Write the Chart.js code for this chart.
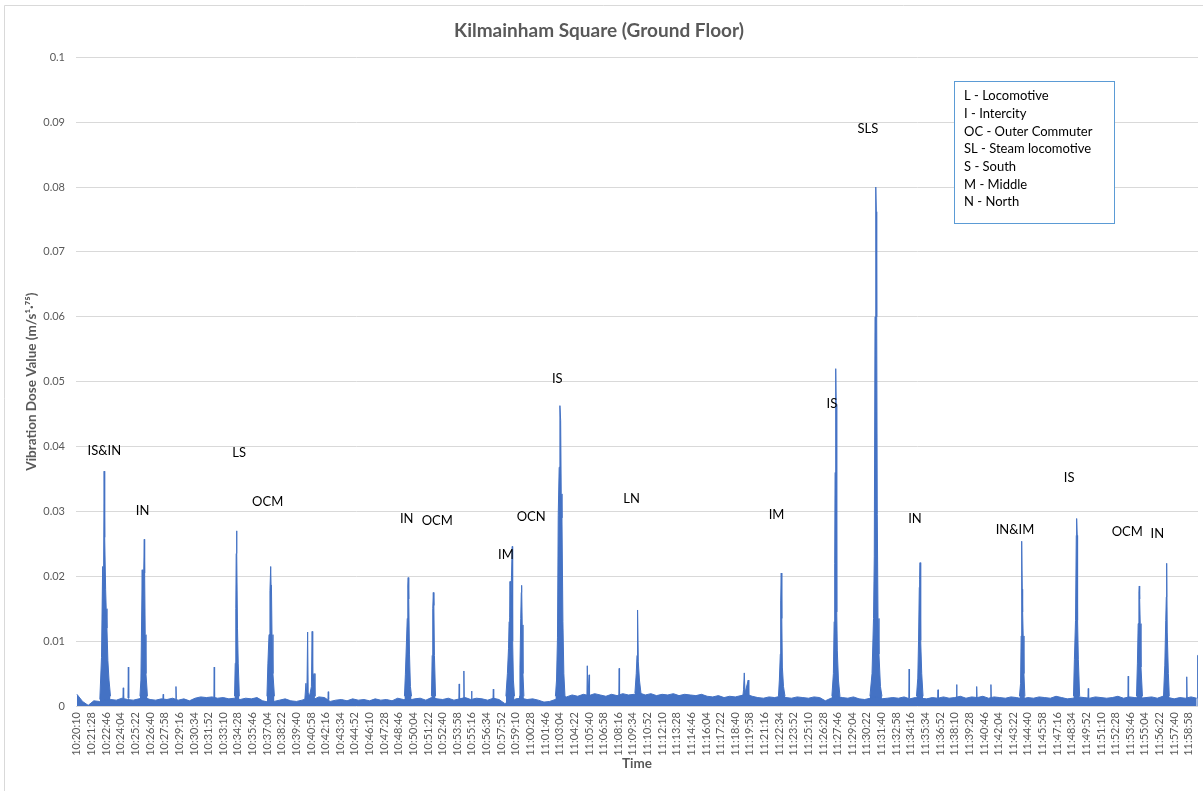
<!DOCTYPE html>
<html><head><meta charset="utf-8">
<script src="https://cdn.jsdelivr.net/npm/chart.js@4.4.1/dist/chart.umd.min.js"></script>
<style>html,body{margin:0;padding:0;background:#fff;}</style>
</head><body>
<canvas id="c" width="1203" height="791"></canvas>
<script>
const chartTitle = 'Kilmainham Square (Ground Floor)';
const yAxisTitle = 'Vibration Dose Value (m/s¹·⁷⁵)';
const xAxisTitle = 'Time';
const startTime = '10:20:10';
const tickLabels = ['10:20:10','10:21:28','10:22:46','10:24:04','10:25:22','10:26:40','10:27:58','10:29:16','10:30:34','10:31:52','10:33:10','10:34:28','10:35:46','10:37:04','10:38:22','10:39:40','10:40:58','10:42:16','10:43:34','10:44:52','10:46:10','10:47:28','10:48:46','10:50:04','10:51:22','10:52:40','10:53:58','10:55:16','10:56:34','10:57:52','10:59:10','11:00:28','11:01:46','11:03:04','11:04:22','11:05:40','11:06:58','11:08:16','11:09:34','11:10:52','11:12:10','11:13:28','11:14:46','11:16:04','11:17:22','11:18:40','11:19:58','11:21:16','11:22:34','11:23:52','11:25:10','11:26:28','11:27:46','11:29:04','11:30:22','11:31:40','11:32:58','11:34:16','11:35:34','11:36:52','11:38:10','11:39:28','11:40:46','11:42:04','11:43:22','11:44:40','11:45:58','11:47:16','11:48:34','11:49:52','11:51:10','11:52:28','11:53:46','11:55:04','11:56:22','11:57:40','11:58:58'];
const yMin = 0, yMax = 0.1, yStep = 0.01;
const xMinSeconds = -5, xMaxSeconds = 5977;

// background vibration level, one reading every 30 s from 10:20:10
const baselineStepSeconds = 30;
const baselineValues = [
0.0018,0.0007,0.0001,0.0008,0.0007,0.0009,0.0010,0.0009,0.0012,0.0010,
0.0009,0.0011,0.0013,0.0010,0.0009,0.0011,0.0010,0.0012,0.0009,0.0011,
0.0008,0.0012,0.0014,0.0013,0.0014,0.0012,0.0013,0.0011,0.0012,0.0010,
0.0012,0.0011,0.0013,0.0008,0.0006,0.0007,0.0009,0.0011,0.0008,0.0007,
0.0009,0.0012,0.0010,0.0014,0.0013,0.0007,0.0009,0.0010,0.0008,0.0011,
0.0009,0.0010,0.0008,0.0011,0.0009,0.0010,0.0008,0.0012,0.0010,0.0009,
0.0011,0.0012,0.0009,0.0013,0.0011,0.0010,0.0012,0.0009,0.0011,0.0013,
0.0010,0.0012,0.0011,0.0009,0.0012,0.0010,0.0004,0.0005,0.0011,0.0012,
0.0010,0.0011,0.0009,0.0006,0.0007,0.0010,0.0016,0.0014,0.0017,0.0015,
0.0018,0.0016,0.0019,0.0017,0.0015,0.0018,0.0016,0.0019,0.0017,0.0018,
0.0020,0.0017,0.0019,0.0016,0.0018,0.0017,0.0019,0.0016,0.0018,0.0017,
0.0016,0.0018,0.0015,0.0014,0.0016,0.0013,0.0015,0.0014,0.0016,0.0018,
0.0015,0.0013,0.0012,0.0014,0.0013,0.0015,0.0013,0.0012,0.0014,0.0013,
0.0012,0.0014,0.0013,0.0008,0.0012,0.0015,0.0013,0.0012,0.0014,0.0011,
0.0010,0.0012,0.0014,0.0011,0.0012,0.0013,0.0012,0.0014,0.0011,0.0013,
0.0012,0.0011,0.0013,0.0012,0.0014,0.0012,0.0013,0.0015,0.0012,0.0014,
0.0013,0.0015,0.0012,0.0014,0.0013,0.0012,0.0014,0.0013,0.0011,0.0013,
0.0012,0.0014,0.0013,0.0012,0.0015,0.0013,0.0011,0.0012,0.0014,0.0013,
0.0012,0.0014,0.0013,0.0012,0.0013,0.0015,0.0012,0.0014,0.0013,0.0012,
0.0013,0.0014,0.0012,0.0015,0.0013,0.0011,0.0013,0.0012,0.0014,0.0012];

// train passages and spikes: [seconds after 10:20:10, value]
const events = [
[[122,0.001],[131,0.0075],[137,0.0215],[141,0.014],[145,0.0362],[147,0.027],[149,0.026],[153,0.018],[156,0.015],[160,0.012],[165,0.007],[171,0.004],[179,0.0015]],
[[245,0.0012],[247,0.0028],[249,0.0012]],
[[272,0.0012],[274,0.006],[276,0.0012]],
[[336,0.0015],[341,0.004],[348,0.021],[352,0.0115],[354,0.017],[359,0.0257],[361,0.0205],[364,0.011],[368,0.005],[376,0.0015]],
[[458,0.0011],[460,0.0018],[462,0.0011]],
[[526,0.0011],[528,0.003],[530,0.0011]],
[[730,0.0013],[732,0.006],[734,0.0013]],
[[840,0.0015],[844,0.0066],[847,0.015],[849,0.0235],[851,0.027],[853,0.0235],[856,0.012],[860,0.0065],[866,0.0015]],
[[1013,0.0015],[1018,0.0065],[1024,0.011],[1029,0.0178],[1033,0.0215],[1035,0.0186],[1037,0.0185],[1040,0.011],[1045,0.005],[1053,0.0015]],
[[1215,0.001],[1221,0.0035],[1226,0.0015],[1230,0.0114],[1233,0.002],[1240,0.0015],[1250,0.003],[1254,0.0115],[1257,0.004],[1264,0.005],[1269,0.0015]],
[[1338,0.001],[1340,0.0022],[1342,0.001]],
[[1746,0.0015],[1751,0.0048],[1757,0.01],[1761,0.0135],[1764,0.0185],[1766,0.0198],[1769,0.0165],[1773,0.008],[1778,0.003],[1784,0.0015]],
[[1890,0.0015],[1894,0.0078],[1897,0.015],[1900,0.0175],[1903,0.0155],[1906,0.0078],[1912,0.0015]],
[[2036,0.0011],[2038,0.0034],[2040,0.0011]],
[[2061,0.0011],[2063,0.0054],[2065,0.0011]],
[[2102,0.0011],[2104,0.0023],[2106,0.0011]],
[[2218,0.001],[2220,0.0026],[2222,0.001]],
[[2287,0.0015],[2295,0.005],[2301,0.0089],[2304,0.013],[2307,0.0137],[2309,0.0192],[2312,0.0137],[2315,0.018],[2321,0.0246],[2323,0.01],[2327,0.004],[2333,0.0015]],
[[2357,0.0015],[2362,0.006],[2366,0.0135],[2369,0.0175],[2371,0.0186],[2374,0.0125],[2378,0.005],[2383,0.0015]],
[[2551,0.0015],[2557,0.004],[2562,0.0105],[2566,0.0294],[2571,0.0368],[2575,0.0463],[2579,0.044],[2582,0.0327],[2586,0.029],[2591,0.013],[2596,0.005],[2602,0.0015]],
[[2719,0.0016],[2721,0.0062],[2725,0.0017],[2731,0.0048],[2733,0.0016]],
[[2889,0.0017],[2891,0.0058],[2893,0.0017]],
[[2975,0.002],[2982,0.005],[2986,0.0078],[2989,0.0148],[2993,0.0068],[2999,0.004],[3007,0.002]],
[[3550,0.0014],[3554,0.0025],[3558,0.0051],[3562,0.002],[3579,0.004],[3582,0.0014]],
[[3740,0.0015],[3745,0.004],[3750,0.008],[3752,0.0162],[3755,0.0205],[3758,0.0135],[3761,0.006],[3767,0.003],[3775,0.0015]],
[[4025,0.0015],[4033,0.005],[4037,0.013],[4040,0.022],[4042,0.036],[4045,0.042],[4046,0.052],[4048,0.0465],[4051,0.0145],[4054,0.0085],[4060,0.004],[4068,0.0015]],
[[4228,0.0015],[4239,0.005],[4247,0.0135],[4251,0.023],[4255,0.06],[4258,0.0762],[4260,0.08],[4262,0.0762],[4264,0.06],[4267,0.0295],[4271,0.0135],[4276,0.008],[4284,0.003],[4292,0.0015]],
[[4435,0.0012],[4437,0.0057],[4439,0.0012]],
[[4476,0.0015],[4483,0.0043],[4487,0.01],[4491,0.0183],[4493,0.0195],[4495,0.0221],[4497,0.0195],[4500,0.0101],[4504,0.005],[4511,0.0015]],
[[4589,0.0012],[4591,0.0025],[4593,0.0012]],
[[4688,0.0012],[4690,0.0033],[4692,0.0012]],
[[4795,0.0012],[4797,0.003],[4799,0.0012]],
[[4871,0.0012],[4873,0.0033],[4875,0.0012]],
[[5025,0.0015],[5031,0.0035],[5034,0.0108],[5037,0.0254],[5040,0.018],[5042,0.0145],[5045,0.0108],[5049,0.005],[5054,0.0015]],
[[5313,0.0015],[5318,0.0072],[5324,0.0132],[5328,0.0263],[5330,0.0289],[5333,0.0263],[5335,0.0132],[5339,0.0072],[5346,0.0015]],
[[5390,0.0012],[5392,0.0027],[5394,0.0012]],
[[5603,0.0012],[5605,0.0046],[5607,0.0012]],
[[5649,0.0015],[5654,0.0066],[5658,0.0127],[5662,0.0176],[5664,0.0185],[5666,0.0165],[5669,0.0127],[5673,0.006],[5681,0.0015]],
[[5793,0.0015],[5800,0.0063],[5805,0.0132],[5808,0.0168],[5810,0.022],[5813,0.0114],[5815,0.0114],[5819,0.005],[5824,0.0015]],
[[5915,0.0012],[5917,0.0045],[5919,0.0012]],
[[5973,0.0012],[5975,0.0078],[5977,0.0078]]
];

// event labels placed in data space
const annotationLabels  = ['IS&IN','IN','LS','OCM','IN','OCM','IM','OCN','IS','LN','IM','IS','SLS','IN','IN&IM','IS','OCM','IN'];
const annotationSeconds = [146,350,865,1017,1758,1921,2287,2422,2561,2957,3730,4025,4217,4468,5001,5290,5600,5760];
const annotationValues  = [0.0394,0.0301,0.0391,0.0315,0.0289,0.0285,0.0233,0.0292,0.0505,0.0320,0.0295,0.0466,0.0889,0.0289,0.0272,0.0352,0.0268,0.0265];

const keyLines = ['L - Locomotive','I - Intercity','OC - Outer Commuter','SL - Steam locomotive','S - South','M - Middle','N - North'];

// ---------- build ----------
const toSec = s => { const p = s.split(':').map(Number); return p[0]*3600 + p[1]*60 + p[2]; };
const t0 = toSec(startTime);
const tickSeconds = tickLabels.map(l => toSec(l) - t0);
const baselinePoints = baselineValues.map((v, i) => ({x: i * baselineStepSeconds, y: v}));
const eventPoints = [];
events.forEach(ev => {
  ev.forEach(([t, v]) => eventPoints.push({x: t, y: v}));
  eventPoints.push({x: ev[ev.length - 1][0] + 0.5, y: null});
});
const yTickValues = [];
for (let v = yMin; v <= yMax + 1e-9; v += yStep) yTickValues.push(+v.toFixed(2));

const BLUE = '#4472C4';
const FONT = 'Lato, "Open Sans", sans-serif';

const framePlugin = {
  id: 'frame',
  beforeDraw(chart) {
    const ctx = chart.ctx;
    ctx.save();
    ctx.fillStyle = '#ffffff';
    ctx.fillRect(0, 0, chart.width, chart.height);
    ctx.strokeStyle = '#d9d9d9';
    ctx.lineWidth = 1;
    ctx.beginPath();
    ctx.moveTo(4.5, chart.height);
    ctx.lineTo(4.5, 5.5);
    ctx.lineTo(chart.width, 5.5);
    ctx.stroke();
    ctx.restore();
  }
};

const labelPlugin = {
  id: 'eventLabels',
  afterDatasetsDraw(chart) {
    const {ctx, scales} = chart;
    ctx.save();
    ctx.font = '13px ' + FONT;
    ctx.fillStyle = '#000000';
    ctx.textAlign = 'center';
    ctx.textBaseline = 'middle';
    annotationLabels.forEach((txt, i) => {
      ctx.fillText(txt, scales.x.getPixelForValue(annotationSeconds[i]), scales.y.getPixelForValue(annotationValues[i]));
    });
    // key text box
    const bx = 954.5, by = 81.5, bw = 160, bh = 142;
    ctx.fillStyle = '#ffffff';
    ctx.fillRect(bx, by, bw, bh);
    ctx.strokeStyle = '#5B9BD5';
    ctx.lineWidth = 1;
    ctx.strokeRect(bx, by, bw, bh);
    ctx.fillStyle = '#000000';
    ctx.textAlign = 'left';
    keyLines.forEach((line, i) => ctx.fillText(line, 964, 96 + i * 17.7));
    ctx.restore();
  }
};

new Chart(document.getElementById('c'), {
  type: 'line',
  data: {
    datasets: [
      {label: 'Background', data: baselinePoints, borderColor: BLUE, backgroundColor: BLUE, borderWidth: 1, pointRadius: 0, fill: 'origin', tension: 0},
      {label: 'Events', data: eventPoints, borderColor: BLUE, backgroundColor: BLUE, borderWidth: 1, pointRadius: 0, fill: 'origin', tension: 0, spanGaps: false}
    ]
  },
  options: {
    responsive: false,
    animation: false,
    devicePixelRatio: 1,
    layout: {padding: {left: 0, right: 5, top: 0, bottom: 0}},
    plugins: {
      legend: {display: false},
      tooltip: {enabled: false},
      title: {display: true, text: chartTitle, color: '#595959', font: {family: FONT, size: 19, weight: 'bold'}, padding: {top: 19, bottom: 15.5}}
    },
    scales: {
      x: {
        type: 'linear', min: xMinSeconds, max: xMaxSeconds,
        afterBuildTicks: axis => { axis.ticks = tickSeconds.map(v => ({value: v})); },
        afterFit: s => { s.height = 85; s.paddingRight = 0; s.paddingLeft = 0; },
        grid: {display: false, drawTicks: false},
        border: {display: false},
        ticks: {autoSkip: false, minRotation: 90, maxRotation: 90, padding: 6, color: '#595959', font: {family: FONT, size: 11},
                callback: (v, i) => tickLabels[i]},
        title: {display: true, text: xAxisTitle, color: '#595959', font: {family: FONT, size: 13.5, weight: 'bold'}, padding: {top: 0, bottom: 19}}
      },
      y: {
        min: yMin, max: yMax,
        afterBuildTicks: axis => { axis.ticks = yTickValues.map(v => ({value: v})); },
        afterFit: s => { s.width = 76; },
        grid: {color: '#d9d9d9', lineWidth: 1, drawTicks: false},
        border: {display: false},
        ticks: {padding: 11, color: '#595959', font: {family: FONT, size: 11}, callback: v => String(+v.toFixed(2))},
        title: {display: true, text: yAxisTitle, color: '#595959', font: {family: FONT, size: 13.5, weight: 'bold'}, padding: {top: 24, bottom: 0}}
      }
    }
  },
  plugins: [framePlugin, labelPlugin]
});
</script>
</body></html>
